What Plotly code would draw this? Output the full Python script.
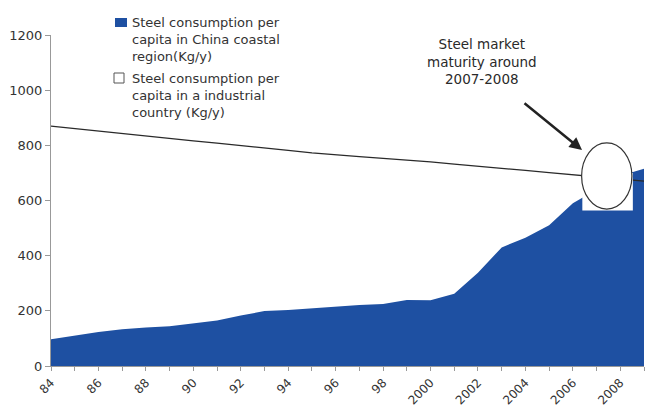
import plotly.graph_objects as go

# Years on the horizontal axis
years = list(range(1984, 2010))

# Steel consumption per capita, China coastal region (Kg/y)
coastal = [97, 110, 123, 133, 140, 144, 155, 165, 183, 199, 203, 209, 216,
           221, 225, 239, 238, 262, 338, 430, 465, 510, 590, 640, 690, 715]

# Steel consumption per capita, industrial country (Kg/y)
industrial = [870, 861, 851, 842, 832, 823, 816, 808, 800, 791, 782, 773, 765,
              759, 753, 747, 740, 732, 725, 717, 709, 701, 694, 686, 678, 670]

# Axis tick labels
x_tickvals = list(range(1984, 2009, 2))
x_ticktext = ["84", "86", "88", "90", "92", "94", "96", "98",
              "2000", "2002", "2004", "2006", "2008"]
y_tickvals = [0, 200, 400, 600, 800, 1000, 1200]

legend_coastal = "Steel consumption per<br>capita in China coastal<br>region(Kg/y)"
legend_industrial = "Steel consumption per<br>capita in a industrial<br>country (Kg/y)"
note_text = "Steel market<br>maturity around<br>2007-2008"

BLUE = "#1e50a2"
FONT = "DejaVu Sans"

fig = go.Figure()
fig.add_trace(go.Scatter(x=years, y=coastal, mode="lines", fill="tozeroy",
                         fillcolor=BLUE, line=dict(width=0, color=BLUE),
                         showlegend=False, hoverinfo="skip"))
fig.add_trace(go.Scatter(x=years, y=industrial, mode="lines",
                         line=dict(width=1.3, color="#2a2a2a"),
                         showlegend=False, hoverinfo="skip"))

W, H = 646, 407
ML, MR, MT, MB = 51, 2, 35, 41
pw, ph = W - ML - MR, H - MT - MB


def px(x):
    return (x - ML) / pw


def py(y):
    return (H - MB - y) / ph


shapes = [
    # white patch and circled zone around the maturity point
    dict(type="rect", xref="x", yref="y", x0=2006.4, x1=2008.53, y0=564, y1=700,
         fillcolor="white", line=dict(width=0), layer="above"),
    dict(type="circle", xref="x", yref="y", x0=2006.37, x1=2008.49, y0=569, y1=809,
         fillcolor="white", line=dict(width=1.2, color="#333333"), layer="above"),
    # legend swatches
    dict(type="rect", xref="paper", yref="paper", x0=px(115), x1=px(127),
         y0=py(27), y1=py(18), fillcolor=BLUE, line=dict(width=0)),
    dict(type="rect", xref="paper", yref="paper", x0=px(114), x1=px(124),
         y0=py(83), y1=py(73), fillcolor="white", line=dict(width=1, color="#555555")),
]

annotations = [
    dict(xref="paper", yref="paper", x=px(130), y=py(13), xanchor="left", yanchor="top",
         text=legend_coastal, showarrow=False, align="left",
         font=dict(family=FONT, size=13, color="#333333")),
    dict(xref="paper", yref="paper", x=px(130), y=py(69), xanchor="left", yanchor="top",
         text=legend_industrial, showarrow=False, align="left",
         font=dict(family=FONT, size=13, color="#333333")),
    dict(xref="paper", yref="paper", x=px(482), y=py(34), xanchor="center", yanchor="top",
         text=note_text, showarrow=False, align="center",
         font=dict(family=FONT, size=13.5, color="#2a2a2a")),
    dict(xref="paper", yref="paper", x=px(582), y=py(150), ax=-59, ay=-48,
         text="", showarrow=True, arrowhead=2, arrowsize=1, arrowwidth=2.5,
         arrowcolor="#222222"),
]

fig.update_layout(
    width=W, height=H,
    margin=dict(l=ML, r=MR, t=MT, b=MB, pad=0),
    paper_bgcolor="white", plot_bgcolor="white",
    shapes=shapes, annotations=annotations,
    font=dict(family=FONT, color="#333333"),
    xaxis=dict(range=[1984, 2009], tickvals=x_tickvals, ticktext=x_ticktext,
               tickangle=-45, ticks="outside", ticklen=4, tickcolor="#999999",
               showline=True, linecolor="#999999", linewidth=1, showgrid=False,
               zeroline=False, automargin=False,
               tickfont=dict(family=FONT, size=12, color="#333333"),
               minor=dict(dtick=1, tick0=1984, ticks="outside", ticklen=4,
                          tickcolor="#999999", showgrid=False)),
    yaxis=dict(range=[0, 1200], tickvals=y_tickvals, ticks="outside", ticklen=5,
               tickcolor="#999999", showline=True, linecolor="#999999",
               linewidth=1, showgrid=False, zeroline=False, automargin=False,
               tickfont=dict(family=FONT, size=13, color="#333333")),
)

fig.write_html("out.html")
